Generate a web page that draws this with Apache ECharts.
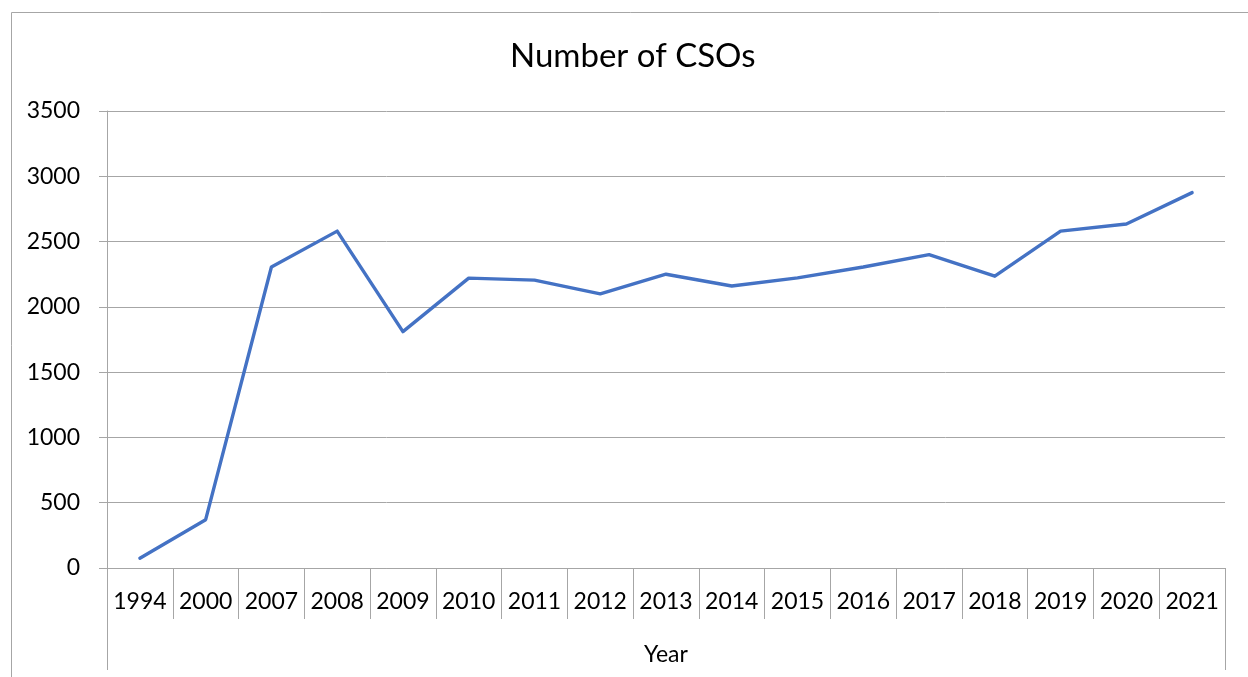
<!DOCTYPE html>
<html>
<head>
<meta charset="utf-8">
<script src="https://cdn.jsdelivr.net/npm/echarts@6/dist/echarts.min.js"></script>
<style>
html,body{margin:0;padding:0;background:#fff;}
#chart{width:1248px;height:677px;}
</style>
</head>
<body>
<div id="chart"></div>
<script>
const titleText = 'Number of CSOs';
const years = ['1994','2000','2007','2008','2009','2010','2011','2012','2013','2014','2015','2016','2017','2018','2019','2020','2021'];
const csoCounts = [75, 370, 2305, 2580, 1810, 2220, 2205, 2100, 2250, 2160, 2222, 2305, 2400, 2235, 2580, 2635, 2875];
const axisTitle = ['Year'];
const yTicks = {min: 0, max: 3500, interval: 500};

const FONT = 'Lato';
const GRAY = '#a6a6a6';
const chart = echarts.init(document.getElementById('chart'));
chart.setOption({
  animation: false,
  backgroundColor: '#fff',
  textStyle: {fontFamily: FONT},
  title: {
    text: titleText,
    left: 505,
    top: 35,
    textStyle: {fontFamily: FONT, fontSize: 33, fontWeight: 'normal', color: '#000'}
  },
  graphic: [{
    type: 'rect',
    shape: {x: 11.5, y: 12.5, width: 1400, height: 800},
    style: {fill: 'none', stroke: GRAY, lineWidth: 1},
    silent: true
  }],
  grid: {left: 107, right: 23, top: 111, bottom: 109, containLabel: false},
  xAxis: [{
    type: 'category',
    data: years,
    position: 'bottom',
    boundaryGap: true,
    axisLine: {show: true, lineStyle: {color: GRAY, width: 1}},
    axisTick: {show: true, interval: 0, length: 51, alignWithLabel: false, lineStyle: {color: GRAY}},
    axisLabel: {interval: 0, margin: 22, fontFamily: FONT, fontSize: 23, color: '#000'},
    splitLine: {show: false}
  }, {
    type: 'category',
    data: axisTitle,
    position: 'bottom',
    offset: 0,
    boundaryGap: true,
    axisLine: {show: false},
    axisTick: {show: true, interval: 0, length: 102, alignWithLabel: false, lineStyle: {color: GRAY}},
    axisLabel: {interval: 0, margin: 75, fontFamily: FONT, fontSize: 23, color: '#000'},
    splitLine: {show: false}
  }],
  yAxis: {
    type: 'value',
    min: yTicks.min,
    max: yTicks.max,
    interval: yTicks.interval,
    axisLine: {show: true, lineStyle: {color: GRAY, width: 1}},
    axisTick: {show: true, length: 8, lineStyle: {color: GRAY}},
    axisLabel: {margin: 27, fontFamily: FONT, fontSize: 23, color: '#000', formatter: v => String(v)},
    splitLine: {show: true, lineStyle: {color: GRAY, width: 1}}
  },
  series: [{
    type: 'line',
    name: titleText,
    xAxisIndex: 0,
    data: csoCounts,
    symbol: 'none',
    lineStyle: {color: '#4472C4', width: 3.4, join: 'round', cap: 'round'},
    itemStyle: {color: '#4472C4'}
  }]
});
</script>
</body>
</html>
